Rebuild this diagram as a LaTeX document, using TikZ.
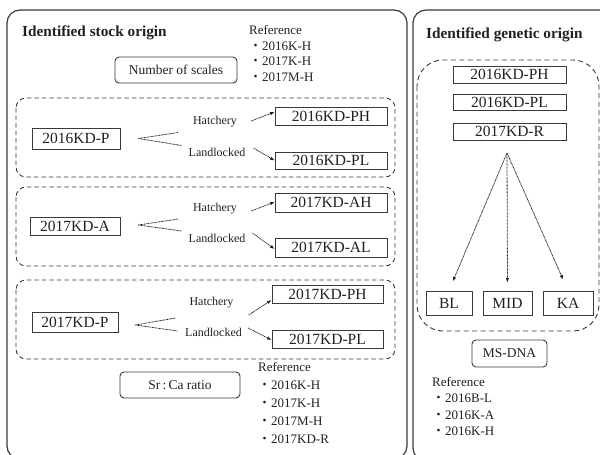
\documentclass[tikz,border=0pt]{standalone}
\usepackage{fontspec}
\setmainfont{Liberation Serif}
\newfontfamily\cjk{Noto Sans CJK JP}
\usetikzlibrary{arrows.meta}

\definecolor{ink}{HTML}{231F20}
\definecolor{rule}{HTML}{3A3A3A}

\tikzset{
  panel/.style={draw=rule, line width=1.2pt, rounded corners=13pt},
  group/.style={draw=rule, line width=0.9pt, dash pattern=on 4.5pt off 3pt, rounded corners=10pt},
  pool/.style={draw=rule, line width=0.9pt, dash pattern=on 5pt off 3.5pt, rounded corners=26pt},
  sample/.style={draw=rule, line width=0.9pt, inner sep=0pt, text=ink,
    font=\fontsize{15.5}{18}\selectfont},
  method/.style={draw=rule, line width=0.9pt, rounded corners=4pt, inner sep=0pt, text=ink,
    font=\fontsize{13.5}{16}\selectfont},
  route/.style={inner sep=0pt, text=ink, font=\fontsize{12}{14}\selectfont},
  title/.style={inner sep=0pt, anchor=west, text=ink, font=\fontsize{15.3}{18}\selectfont\bfseries},
  refs/.style={inner sep=0pt, anchor=north west, align=left, text=ink},
  fork/.style={draw=ink, line width=0.8pt, dash pattern=on 0.8pt off 0.6pt},
  feed/.style={fork, -{Latex[length=4.5pt,width=3.5pt]}},
}
\newcommand{\refitem}{{\cjk ・}}

\begin{document}
\begin{tikzpicture}[x=1pt,y=-1pt]
\useasboundingbox (0,0) rectangle (600,455);
\begin{scope}
\clip (0,0) rectangle (600,455);

% ---------- left panel: stock origin ----------
\draw[panel] (7,10) rectangle (407,459);
\node[title] (tstock) at (22,33) {Identified stock origin};
\node[refs, font=\fontsize{13}{15.7}\selectfont] (refscale) at (249,25)
  {Reference\\\refitem 2016K-H\\\refitem 2017K-H\\\refitem 2017M-H};
\node[method, minimum width=122pt, minimum height=26pt] (scales) at (176,70) {Number of scales};

% group 2016KD-P
\draw[group] (16,98) rectangle (395,177);
\node[sample, minimum width=88pt, minimum height=21pt] (p16) at (76,138.5) {2016KD-P};
\node[sample, minimum width=112pt, minimum height=18pt] (ph16) at (331,116) {2016KD-PH};
\node[sample, minimum width=112pt, minimum height=17pt] (pl16) at (331,160.5) {2016KD-PL};
\node[route] (h16) at (215,122) {Hatchery};
\node[route] (l16) at (217,152) {Landlocked};
\coordinate (f16) at ([xshift=18pt]p16.east);
\draw[fork] (f16) -- ++(40,-6);
\draw[fork] (f16) -- ++(43,7);
\draw[feed] ([xshift=14pt,yshift=1pt]h16.east) -- ([yshift=4pt]ph16.west);
\draw[feed] ([xshift=8pt,yshift=4pt]l16.east) -- (pl16.west);

% group 2017KD-A
\draw[group] (16,187) rectangle (395,266);
\node[sample, minimum width=90pt, minimum height=18pt] (a17) at (75,226) {2017KD-A};
\node[sample, minimum width=112pt, minimum height=19pt] (ah17) at (331,202.5) {2017KD-AH};
\node[sample, minimum width=112pt, minimum height=19pt] (al17) at (331,247.5) {2017KD-AL};
\node[route] (h17a) at (215,209) {Hatchery};
\node[route] (l17a) at (217,238) {Landlocked};
\coordinate (f17a) at ([xshift=18pt,yshift=1pt]a17.east);
\draw[fork] (f17a) -- ++(40,-6);
\draw[fork] (f17a) -- ++(43,6);
\draw[feed] ([xshift=14pt,yshift=-2pt]h17a.east) -- ([yshift=0.5pt]ah17.west);
\draw[feed] ([xshift=7pt,yshift=5pt]l17a.east) -- ([yshift=-1.5pt]al17.west);

% group 2017KD-P
\draw[group] (16,280) rectangle (395,359);
\node[sample, minimum width=86pt, minimum height=20pt] (p17) at (75,322) {2017KD-P};
\node[sample, minimum width=111pt, minimum height=18pt] (ph17) at (327.5,294) {2017KD-PH};
\node[sample, minimum width=111pt, minimum height=18pt] (pl17) at (327.5,339) {2017KD-PL};
\node[route] (h17p) at (211.5,303) {Hatchery};
\node[route] (l17p) at (213.5,332) {Landlocked};
\coordinate (f17p) at ([xshift=17pt,yshift=-3pt]p17.east);
\draw[fork] (f17p) -- ++(40,-7);
\draw[fork] (f17p) -- ++(42,6);
\draw[feed] ([xshift=15pt,yshift=-12pt]h17p.east) -- ([yshift=-6pt]ph17.west);
\draw[feed] ([xshift=6pt,yshift=4pt]l17p.east) -- ([yshift=-1pt]pl17.west);

\node[method, minimum width=120pt, minimum height=26pt] (srca) at (180,385) {Sr\,:\,Ca ratio};
\node[refs, font=\fontsize{13}{18}\selectfont] (refsrca) at (258,362)
  {Reference\\\refitem 2016K-H\\\refitem 2017K-H\\\refitem 2017M-H\\\refitem 2017KD-R};

% ---------- right panel: genetic origin ----------
\draw[panel] (413,10) rectangle (614,461);
\node[title] (tgene) at (426,35) {Identified genetic origin};
\draw[pool] (417,60) rectangle (599,331);
\node[sample, minimum width=113pt, minimum height=17pt] (gph) at (509.5,74.5) {2016KD-PH};
\node[sample, minimum width=113pt, minimum height=16pt] (gpl) at (509.5,102) {2016KD-PL};
\node[sample, minimum width=113pt, minimum height=17pt] (gr) at (509.5,131.5) {2017KD-R};
\coordinate (apex) at (507,153);
\node[sample, minimum width=46pt, minimum height=24pt] (bl) at (449,303) {BL};
\node[sample, minimum width=49pt, minimum height=24pt] (mid) at (507.5,303) {MID};
\node[sample, minimum width=50pt, minimum height=24pt] (ka) at (568,303) {KA};
\draw[feed, shorten >=10pt] (apex) -- (bl.north);
\draw[feed, shorten >=8pt] (apex) -- (mid.north);
\draw[feed, shorten >=12pt] (apex) -- (ka.north);
\node[method, minimum width=75pt, minimum height=27pt] (msdna) at (509.5,353.5) {MS-DNA};
\node[refs, font=\fontsize{13}{16.5}\selectfont] (refdna) at (432,377)
  {Reference\\\refitem 2016B-L\\\refitem 2016K-A\\\refitem 2016K-H};
\end{scope}
\end{tikzpicture}
\end{document}
